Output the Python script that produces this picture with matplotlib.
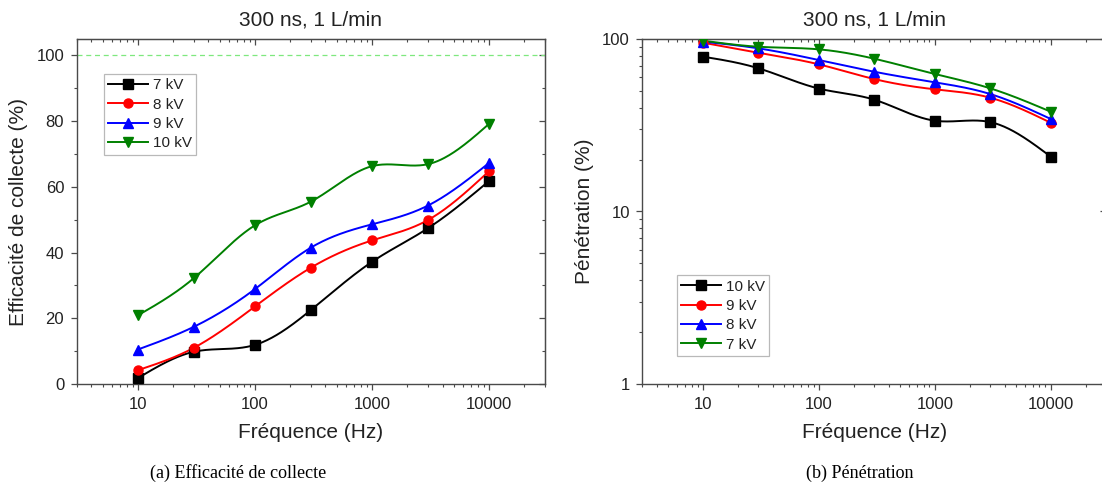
import numpy as np
import matplotlib
matplotlib.use("Agg")
import matplotlib.pyplot as plt
from matplotlib.lines import Line2D
from matplotlib.ticker import FixedLocator, LogLocator, NullFormatter, FuncFormatter, MultipleLocator

plt.rcParams['font.family'] = ['Liberation Sans', 'DejaVu Sans']

# ---------------- data ----------------
freq = [10, 30, 100, 300, 1000, 3000, 10000]

# (a) Efficacité de collecte (%)
eff_labels = ["7 kV", "8 kV", "9 kV", "10 kV"]
eff_7kv = [1.8, 9.8, 11.9, 22.5, 37.2, 47.4, 61.8]
eff_8kv = [4.2, 11.0, 23.6, 35.4, 43.7, 49.9, 64.8]
eff_9kv = [10.5, 17.4, 28.9, 41.5, 48.6, 54.3, 67.3]
eff_10kv = [20.9, 32.2, 48.3, 55.5, 66.3, 66.9, 79.2]

# (b) Pénétration (%)
pen_labels = ["10 kV", "9 kV", "8 kV", "7 kV"]
pen_10kv = [79.0, 67.7, 51.6, 44.5, 33.6, 33.0, 20.8]
pen_9kv = [95.2, 83.3, 71.3, 58.6, 51.1, 45.7, 32.7]
pen_8kv = [96.5, 88.3, 75.5, 64.6, 56.1, 48.0, 34.4]
pen_7kv = [97.8, 90.2, 87.1, 76.9, 62.7, 51.8, 37.9]

title_text = "300 ns, 1 L/min"
xlabel_text = "Fréquence (Hz)"
ylabel_a = "Efficacité de collecte (%)"
ylabel_b = "Pénétration (%)"
caption_a = "(a) Efficacité de collecte"
caption_b = "(b) Pénétration"
xtick_vals = [10, 100, 1000, 10000]

colors = ["#000000", "#ff0000", "#0000ff", "#008000"]
markers = ["s", "o", "^", "v"]


def natural_spline(x, y, xs):
    x = np.asarray(x, float); y = np.asarray(y, float)
    n = len(x); h = np.diff(x)
    A = np.zeros((n, n)); b = np.zeros(n)
    A[0, 0] = A[-1, -1] = 1.0
    for i in range(1, n - 1):
        A[i, i - 1] = h[i - 1]
        A[i, i] = 2 * (h[i - 1] + h[i])
        A[i, i + 1] = h[i]
        b[i] = 3 * ((y[i + 1] - y[i]) / h[i] - (y[i] - y[i - 1]) / h[i - 1])
    c = np.linalg.solve(A, b)
    bb = (y[1:] - y[:-1]) / h - h * (2 * c[:-1] + c[1:]) / 3
    d = (c[1:] - c[:-1]) / (3 * h)
    idx = np.clip(np.searchsorted(x, xs) - 1, 0, n - 2)
    dx = xs - x[idx]
    return y[idx] + bb[idx] * dx + c[idx] * dx ** 2 + d[idx] * dx ** 3


W, H = 1102, 494
fig = plt.figure(figsize=(W / 100, H / 100), dpi=100)

ax_bottom = (494 - 384) / H
ax_height = (384 - 39) / H
axa = fig.add_axes([76.7 / W, ax_bottom, (545 - 76.7) / W, ax_height])
axb = fig.add_axes([642.3 / W, ax_bottom, (1106 - 642.3) / W, ax_height])

spine_col = "#4a4a4a"
text_col = "#222222"
MAJ, MIN = 4.5, 2.3


def style_axes(ax, log_y):
    ax.set_xscale('log')
    ax.set_xlim(3, 30000)
    ax.xaxis.set_major_locator(FixedLocator(xtick_vals))
    ax.xaxis.set_major_formatter(FuncFormatter(lambda v, p: f"{int(round(v))}"))
    ax.xaxis.set_minor_locator(LogLocator(base=10, subs=np.arange(2, 10)))
    ax.xaxis.set_minor_formatter(NullFormatter())
    ax.tick_params(which='major', direction='out', length=MAJ, width=0.9,
                   labelsize=12, colors=spine_col, labelcolor=text_col, pad=4.5)
    ax.tick_params(which='minor', direction='out', length=MIN, width=0.8, colors=spine_col)
    for s in ax.spines.values():
        s.set_color(spine_col)
        s.set_linewidth(1.0)
    # mirrored inward ticks on top / right
    sx = ax.secondary_xaxis('top')
    sx.set_xscale('log')
    sx.xaxis.set_major_locator(FixedLocator(xtick_vals))
    sx.xaxis.set_minor_locator(LogLocator(base=10, subs=np.arange(2, 10)))
    sx.xaxis.set_minor_formatter(NullFormatter())
    sx.tick_params(which='both', direction='in', labeltop=False, colors=spine_col)
    sx.tick_params(which='major', length=MAJ, width=0.9)
    sx.tick_params(which='minor', length=MIN, width=0.8)
    sx.spines['top'].set_color(spine_col)
    sy = ax.secondary_yaxis('right')
    if log_y:
        sy.set_yscale('log')
    sy.tick_params(which='both', direction='in', labelright=False, colors=spine_col)
    sy.tick_params(which='major', length=MAJ, width=0.9)
    sy.tick_params(which='minor', length=MIN, width=0.8)
    sy.spines['right'].set_color(spine_col)
    return sx, sy


def make_legend(ax, labels, anchor):
    handles = [Line2D([], [], color=c, marker=m, ms=6.5, lw=1.4) for c, m in zip(colors, markers)]
    leg = ax.legend(handles, labels, loc='upper left', bbox_to_anchor=anchor,
                    borderaxespad=0, fontsize=11, frameon=True, fancybox=False,
                    edgecolor='#a8a8a8', handlelength=2.6, handletextpad=0.3,
                    labelspacing=0.35, borderpad=0.3)
    leg.get_frame().set_linewidth(0.9)
    for t in leg.get_texts():
        t.set_color(text_col)
    return leg


# ---------- (a) ----------
fx = np.log10(freq)
xs = np.linspace(fx[0], fx[-1], 300)
eff_series = [eff_7kv, eff_8kv, eff_9kv, eff_10kv]
axa.axhline(100, color="#7ee87e", lw=0.9, ls=(0, (4, 3)), zorder=1)
for vals, c, m in zip(eff_series, colors, markers):
    ys = natural_spline(fx, vals, xs)
    axa.plot(10 ** xs, ys, color=c, lw=1.4, zorder=2)
    axa.plot(freq, vals, ls='none', marker=m, color=c, ms=6.5, zorder=3)
axa.set_ylim(0, 105)
axa.yaxis.set_major_locator(MultipleLocator(20))
axa.yaxis.set_minor_locator(MultipleLocator(10))
sx, sy = style_axes(axa, False)
sy.yaxis.set_major_locator(MultipleLocator(20))
sy.yaxis.set_minor_locator(MultipleLocator(10))
axa.set_title(title_text, fontsize=15, pad=10, color=text_col)
axa.set_xlabel(xlabel_text, fontsize=15, color=text_col, labelpad=8)
axa.set_ylabel(ylabel_a, fontsize=15, color=text_col, labelpad=6)
make_legend(axa, eff_labels, (0.058, 0.899))

# ---------- (b) ----------
pen_series = [pen_10kv, pen_9kv, pen_8kv, pen_7kv]
for vals, c, m in zip(pen_series, colors, markers):
    ys = natural_spline(fx, np.log10(vals), xs)
    axb.plot(10 ** xs, 10 ** ys, color=c, lw=1.4, zorder=2)
    axb.plot(freq, vals, ls='none', marker=m, color=c, ms=6.5, zorder=3)
axb.set_yscale('log')
axb.set_ylim(1, 100)
axb.yaxis.set_major_locator(FixedLocator([1, 10, 100]))
axb.yaxis.set_major_formatter(FuncFormatter(lambda v, p: f"{int(round(v))}"))
axb.yaxis.set_minor_locator(LogLocator(base=10, subs=np.arange(2, 10)))
axb.yaxis.set_minor_formatter(NullFormatter())
sx2, sy2 = style_axes(axb, True)
sy2.yaxis.set_major_locator(FixedLocator([1, 10, 100]))
sy2.yaxis.set_minor_locator(LogLocator(base=10, subs=np.arange(2, 10)))
sy2.yaxis.set_minor_formatter(NullFormatter())
axb.set_title(title_text, fontsize=15, pad=10, color=text_col)
axb.set_xlabel(xlabel_text, fontsize=15, color=text_col, labelpad=8)
axb.set_ylabel(ylabel_b, fontsize=15, color=text_col, labelpad=6)
make_legend(axb, pen_labels, (0.0745, 0.316))

# captions
fig.text(238 / W, (H - 473) / H, caption_a, ha='center', va='center',
         fontsize=13, family=['Liberation Serif', 'DejaVu Serif'])
fig.text(860 / W, (H - 473) / H, caption_b, ha='center', va='center',
         fontsize=13, family=['Liberation Serif', 'DejaVu Serif'])

fig.savefig("out.png", dpi=100)
